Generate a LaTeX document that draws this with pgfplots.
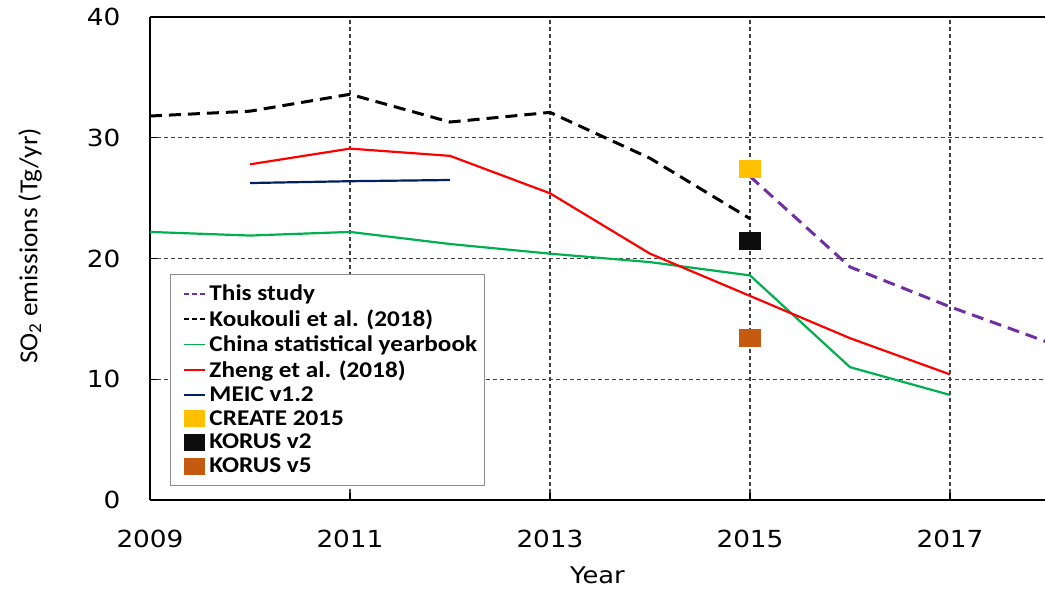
\documentclass[border=0pt]{standalone}
\usepackage{pgfplots}
\pgfplotsset{compat=1.18}
\usepackage{fontspec}
\setmainfont{Carlito}
\newfontfamily\dejavu[FakeStretch=1.12]{DejaVu Sans}
\newfontfamily\legfont[FakeStretch=1.12]{Carlito}
\newfontfamily\ylabfont[FakeStretch=1.05]{Carlito}
\usetikzlibrary{calc}
\definecolor{cpurple}{HTML}{7030A0}
\definecolor{cgreen}{HTML}{00B050}
\definecolor{cred}{HTML}{FF0000}
\definecolor{cblue}{HTML}{002060}
\definecolor{cyellow}{HTML}{FFC000}
\definecolor{cblack}{HTML}{0D0D0D}
\definecolor{corange}{HTML}{C55A11}
\begin{document}
\begin{tikzpicture}
\begin{axis}[name=ax, scale only axis, width=895pt, height=483pt,
  xmin=2009, xmax=2017.95, ymin=0, ymax=40,
  axis x line*=box, axis y line*=left, axis line style={-, line width=1.6pt, black},
  xtick={2009,2011,2013,2015,2017}, ytick={0,10,20,30,40},
  xtick pos=bottom, ytick pos=left,
  tick align=inside, major tick length=7pt, tick style={line width=1.4pt, black},
  grid=major, grid style={color=black!75, line width=1.1pt, dash pattern=on 4pt off 3pt},
  /pgf/number format/assume math mode=true,
  /pgf/number format/set thousands separator={},
  ticklabel style={font=\dejavu\fontsize{23.5}{26}\selectfont},
  xticklabel style={yshift=-27pt},
  yticklabel style={xshift=-26pt},
  xlabel={Year},
  xlabel style={font=\dejavu\fontsize{23}{26}\selectfont, at={(axis description cs:0.5,0)}, anchor=center, yshift=-75pt},
  ylabel={SO\textsubscript{2} emissions (Tg/yr)},
  ylabel style={font=\ylabfont\fontsize{26}{28}\selectfont, at={(axis description cs:-0.134,0.526)}, anchor=center},
  legend style={at={(axis cs:2009.2,18.75)}, anchor=north west, draw=black!45, line width=1pt, fill=white,
    font=\legfont\bfseries\fontsize{22.5}{24}\selectfont, cells={anchor=west}, row sep=3.6pt, inner xsep=5pt, inner ysep=9pt},
  legend cell align=left,
]
\addplot[cpurple, line width=3pt, dash pattern=on 12pt off 7pt,
  legend image code/.code={\path[draw=none] (0pt,0pt) -- (32pt,0pt); \draw[cpurple, line width=1.8pt, dash pattern=on 5pt off 3pt] (9pt,0pt) -- (30pt,0pt);}]
  coordinates {(2015,26.8) (2016,19.3) (2017,16.0) (2018,13.0)};
\addlegendentry{This study}
\addplot[black, line width=3pt, dash pattern=on 12pt off 7pt,
  legend image code/.code={\path[draw=none] (0pt,0pt) -- (32pt,0pt); \draw[black, line width=1.8pt, dash pattern=on 5pt off 3pt] (9pt,0pt) -- (30pt,0pt);}]
  coordinates {(2009,31.8) (2010,32.2) (2011,33.6) (2012,31.3) (2013,32.1) (2014,28.3) (2015,23.3)};
\addlegendentry{Koukouli et al. (2018)}
\addplot[cgreen, line width=2.2pt,
  legend image code/.code={\path[draw=none] (0pt,0pt) -- (32pt,0pt); \draw[cgreen, line width=1.8pt] (9pt,0pt) -- (30pt,0pt);}]
  coordinates {(2009,22.2) (2010,21.9) (2011,22.2) (2012,21.2) (2013,20.4) (2014,19.7) (2015,18.6) (2016,11.0) (2017,8.7)};
\addlegendentry{China statistical yearbook}
\addplot[cred, line width=2.2pt,
  legend image code/.code={\path[draw=none] (0pt,0pt) -- (32pt,0pt); \draw[cred, line width=2pt] (9pt,0pt) -- (30pt,0pt);}]
  coordinates {(2010,27.8) (2011,29.1) (2012,28.5) (2013,25.4) (2014,20.4) (2015,16.9) (2016,13.4) (2017,10.4)};
\addlegendentry{Zheng et al. (2018)}
\addplot[cblue, line width=2.2pt,
  legend image code/.code={\path[draw=none] (0pt,0pt) -- (32pt,0pt); \draw[cblue, line width=1.8pt] (9pt,0pt) -- (30pt,0pt);}]
  coordinates {(2010,26.25) (2011,26.4) (2012,26.5)};
\addlegendentry{MEIC v1.2}
\addplot[only marks, mark=square*, mark size=8.5pt, mark options={fill=cyellow, draw=cyellow, xscale=1.25},
  legend image code/.code={\path[draw=none] (0pt,0pt) -- (32pt,0pt); \fill[cyellow] (9pt,-8pt) rectangle (29pt,8pt);}]
  coordinates {(2015,27.4)};
\addlegendentry{CREATE 2015}
\addplot[only marks, mark=square*, mark size=8.5pt, mark options={fill=cblack, draw=cblack, xscale=1.25},
  legend image code/.code={\path[draw=none] (0pt,0pt) -- (32pt,0pt); \fill[cblack] (9pt,-8pt) rectangle (29pt,8pt);}]
  coordinates {(2015,21.5)};
\addlegendentry{KORUS v2}
\addplot[only marks, mark=square*, mark size=8.5pt, mark options={fill=corange, draw=corange, xscale=1.25},
  legend image code/.code={\path[draw=none] (0pt,0pt) -- (32pt,0pt); \fill[corange] (9pt,-8pt) rectangle (29pt,8pt);}]
  coordinates {(2015,13.4)};
\addlegendentry{KORUS v5}
\end{axis}
\pgfresetboundingbox
\path ($(ax.south west)+(-150pt,-90pt)$) rectangle ($(ax.north east)+(0pt,17pt)$);
\end{tikzpicture}
\end{document}
